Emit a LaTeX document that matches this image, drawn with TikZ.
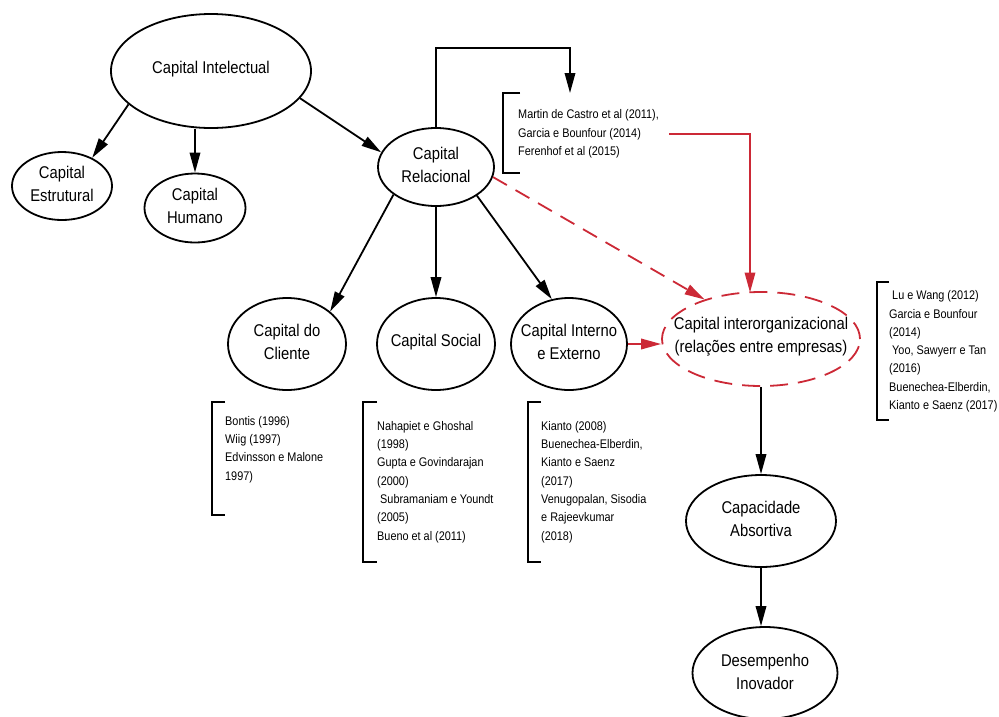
\documentclass[tikz,border=0pt]{standalone}
\usepackage{fontspec}
\setmainfont{Liberation Sans}[FakeStretch=0.87]
\usetikzlibrary{shapes.geometric,arrows.meta}
\definecolor{linkred}{RGB}{204,41,54}

\begin{document}
\begin{tikzpicture}[x=1pt,y=-1pt,
  oval/.style={ellipse, draw, line width=1.8pt, inner sep=0pt},
  redoval/.style={oval, draw=linkred, dash pattern=on 18pt off 10pt},
  lbl/.style={align=center, inner sep=0pt, font=\fontsize{17}{23}\selectfont},
  cite/.style={align=left, anchor=north west, inner sep=0pt,
    font=\fontsize{12.5}{18.3}\selectfont},
  brk/.style={line width=1.8pt},
  arr/.style={line width=1.8pt, -{Triangle[length=20pt,width=10.5pt]}},
  redarr/.style={arr, draw=linkred},
  reddash/.style={redarr, dash pattern=on 16pt off 10pt}]
\useasboundingbox (0,0) rectangle (999,716);

% concept ellipses
\node[oval, minimum width=200pt, minimum height=114pt] (ci)  at (211,71)  {};
\node[oval, minimum width=100pt, minimum height=68pt]  (est) at (62,186)  {};
\node[oval, minimum width=101pt, minimum height=69pt]  (hum) at (195,208) {};
\node[oval, minimum width=116pt, minimum height=78pt]  (cr)  at (436,167) {};
\node[oval, minimum width=118pt, minimum height=92pt]  (cli) at (287,344) {};
\node[oval, minimum width=118pt, minimum height=92pt]  (soc) at (436,344) {};
\node[oval, minimum width=116pt, minimum height=92pt]  (ie)  at (569,344) {};
\node[redoval, minimum width=198pt, minimum height=94pt] (io) at (761,339) {};
\node[oval, minimum width=150pt, minimum height=92pt]  (cap) at (761,521) {};
\node[oval, minimum width=145pt, minimum height=92pt]  (des) at (765,673) {};

% ellipse labels
\node[lbl] (ciT)  at (211,69)  {Capital Intelectual};
\node[lbl] (estT) at (62,183.5) {Capital\\Estrutural};
\node[lbl] (humT) at (195,205.5) {Capital\\Humano};
\node[lbl] (crT)  at (436,164.5) {Capital\\Relacional};
\node[lbl] (cliT) at (287,341.5) {Capital do\\Cliente};
\node[lbl] (socT) at (436,342) {Capital Social};
\node[lbl] (ieT)  at (569,341.5) {Capital Interno\\e Externo};
\node[lbl] (ioT)  at (761,336.5) {Capital interorganizacional\\(relações entre empresas)};
\node[lbl] (capT) at (761,518.5) {Capacidade\\Absortiva};
\node[lbl] (desT) at (765,672) {Desempenho\\Inovador};

% reference lists
\node[cite] (refCR) at (518,109.5) {Martin de Castro et al (2011),\\Garcia e Bounfour (2014)\\Ferenhof et al (2015)};
\node[cite] (refCli) at (225,416) {Bontis (1996)\\Wiig (1997)\\Edvinsson e Malone\\1997)};
\node[cite] (refSoc) at (377,421) {Nahapiet e Ghoshal\\(1998)\\Gupta e Govindarajan\\(2000)\\~Subramaniam e Youndt\\(2005)\\Bueno et al (2011)};
\node[cite] (refIE) at (541,421) {Kianto (2008)\\Buenechea-Elberdin,\\Kianto e Saenz\\(2017)\\Venugopalan, Sisodia\\e Rajeevkumar\\(2018)};
\node[cite] (refIO) at (889,290.5) {~Lu e Wang (2012)\\Garcia e Bounfour\\(2014)\\~Yoo, Sawyerr e Tan\\(2016)\\Buenechea-Elberdin,\\Kianto e Saenz (2017)};

% brackets beside the reference lists
\draw[brk] (520,93)  -- (503,93)  -- (503,173) -- (520,173);
\draw[brk] (225,402) -- (212,402) -- (212,515) -- (225,515);
\draw[brk] (377,402) -- (363,402) -- (363,562) -- (377,562);
\draw[brk] (541,402) -- (528,402) -- (528,562) -- (541,562);
\draw[brk] (889,282) -- (877,282) -- (877,420) -- (889,420);

% connectors
\coordinate (refCRin)  at (570,93);
\coordinate (refCRout) at (669,134);
\coordinate (ioTop)    at (750,292.5);

\draw[arr] (ci.202) -- (est.43);
\draw[arr] (ci.south -| hum.north) -- (hum.north);
\draw[arr] (ci.-17) -- (cr.165);
\draw[arr] (cr.north) |- (570,48) -- (refCRin);
\draw[arr] (cr.213) -- (cli.37);
\draw[arr] (cr.south) -- (soc.north);
\draw[arr] (cr.-35) -- (ie.111);
\draw[reddash] (cr.-10) -- (io.145);
\draw[redarr] (refCRout) -| (ioTop);
\draw[redarr] (ie.east) -- (ie.east -| io.west);
\draw[arr] (io.south) -- (cap.north);
\draw[arr] (cap.south) -- (cap.south |- des.north);
\end{tikzpicture}
\end{document}
